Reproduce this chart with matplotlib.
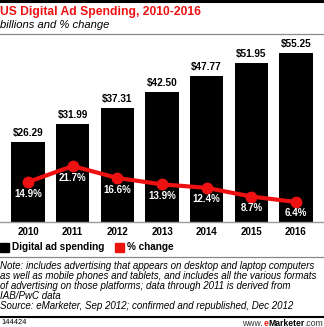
import matplotlib.pyplot as plt
from matplotlib.patches import Rectangle
from matplotlib.lines import Line2D

years = ["2010", "2011", "2012", "2013", "2014", "2015", "2016"]
spending = [26.29, 31.99, 37.31, 42.50, 47.77, 51.95, 55.25]
pct_change = [14.9, 21.7, 16.6, 13.9, 12.4, 8.7, 6.4]

W, H = 324, 327
fig = plt.figure(figsize=(W / 100, H / 100), dpi=100)
fig.patch.set_facecolor("white")


def fy(py):
    return 1 - py / H


def fx(px):
    return px / W


RED = "#ee1111"
BOLD = dict(family="Liberation Sans", fontweight="bold")
NARROW = dict(family=["Liberation Sans Narrow", "Liberation Sans"], fontweight="bold")

# header rules and titles
fig.add_artist(Line2D([0, 1], [fy(1), fy(1)], color="black", lw=2.2, transform=fig.transFigure))
fig.text(fx(0.5), fy(11.5), "US Digital Ad Spending, 2010-2016", color=RED, fontsize=8.7,
         va="center", ha="left", **BOLD)
fig.text(fx(0.5), fy(24.5), "billions and % change", fontsize=8.1, style="italic",
         family="Liberation Sans", va="center", ha="left")
fig.add_artist(Line2D([0, 1], [fy(33.5), fy(33.5)], color="#888888", lw=0.9, transform=fig.transFigure))

# bars on the main axes
ax = fig.add_axes([0, fy(222), 1, fy(45) - fy(222)])
x = list(range(len(years)))
ax.bar(x, spending, width=0.74, color="black", zorder=2)
ax.set_xlim(-0.627, 6.627)
ax.set_ylim(0, (222 - 45) / 3.06)
for i, v in enumerate(spending):
    ax.annotate(f"${v:.2f}", (i, v), xytext=(0, 2.6), textcoords="offset points",
                ha="center", va="bottom", fontsize=7.2, **BOLD)
for s in ["top", "right", "left"]:
    ax.spines[s].set_visible(False)
ax.spines["bottom"].set_color("#999999")
ax.spines["bottom"].set_linewidth(1.0)
ax.set_yticks([])
ax.set_xticks(x)
ax.set_xticklabels(years, fontsize=7.0, **BOLD)
ax.tick_params(axis="x", length=0, pad=3.8)

# percent change line on a twin axis
ax2 = ax.twinx()
ax2.set_ylim((217 - 222) / 2.35, (217 - 45) / 2.35)
ax2.plot(x, pct_change, color=RED, lw=3, marker="o", markersize=7.5, zorder=3)
for i, p in enumerate(pct_change):
    ax2.annotate(f"{p:.1f}%", (i, p), xytext=(0, -8.3), textcoords="offset points",
                 ha="center", va="center", color="white", fontsize=7.0, **NARROW)
ax2.axis("off")

# legend
fig.add_artist(Rectangle((fx(0), fy(251.7)), fx(8.5), fy(243.2) - fy(251.7), color="black",
                         transform=fig.transFigure))
fig.text(fx(12), fy(247.5), "Digital ad spending", fontsize=7.2, va="center", ha="left", **BOLD)
fig.add_artist(Rectangle((fx(115), fy(251.7)), fx(8.5), fy(243.2) - fy(251.7), color=RED,
                         transform=fig.transFigure))
fig.text(fx(127), fy(247.5), "% change", fontsize=7.2, va="center", ha="left", **BOLD)

# footnotes
fig.add_artist(Line2D([0, 1], [fy(256.5), fy(256.5)], color="#888888", lw=0.9, transform=fig.transFigure))
note = ("Note: includes advertising that appears on desktop and laptop computers\n"
        "as well as mobile phones and tablets, and includes all the various formats\n"
        "of advertising on those platforms; data through 2011 is derived from\n"
        "IAB/PwC data\n"
        "Source: eMarketer, Sep 2012; confirmed and republished, Dec 2012")
fig.text(fx(0.5), fy(261), note, fontsize=7.05, style="italic", family="Liberation Sans",
         va="top", ha="left", linespacing=1.0)
fig.add_artist(Line2D([0, 1], [fy(317), fy(317)], color="black", lw=1.5, transform=fig.transFigure))
fig.text(fx(1), fy(323), "144424", fontsize=5.4, family="Liberation Sans", va="center", ha="left")

# site credit, built right to left
renderer = fig.canvas.get_renderer()
parts = [(".com", {}, "#333333"), ("Marketer", {"fontweight": "bold"}, "black"),
         ("e", {"fontweight": "bold"}, RED), ("www.", {}, "#333333")]
right = 323
for txt, kw, col in parts:
    t = fig.text(fx(right), fy(323), txt, fontsize=6.2, family="Liberation Sans",
                 va="center", ha="right", color=col, **kw)
    right -= t.get_window_extent(renderer).width

fig.savefig("out.png", dpi=100)
